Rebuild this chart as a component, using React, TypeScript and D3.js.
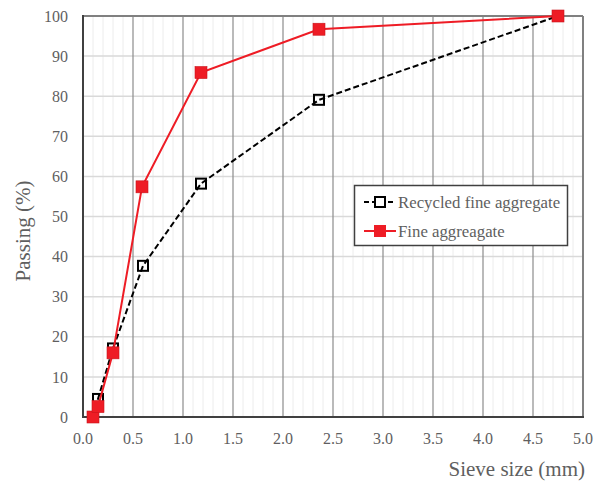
import React from 'react';
import * as d3 from 'd3';

// sieve sizes (mm) and passing percentages
const recycledSize = [0.1, 0.15, 0.3, 0.6, 1.18, 2.36, 4.75];
const recycledPassing = [0, 4.5, 17.1, 37.7, 58.2, 79.1, 100];
const fineSize = [0.1, 0.15, 0.3, 0.59, 1.18, 2.36, 4.75];
const finePassing = [0, 2.6, 16, 57.4, 85.9, 96.7, 100];
const xTicks = [0, 0.5, 1, 1.5, 2, 2.5, 3, 3.5, 4, 4.5, 5];
const yTicks = [0, 10, 20, 30, 40, 50, 60, 70, 80, 90, 100];
const seriesNames = ['Recycled fine aggregate', 'Fine aggreagate'];

const W = 598;
const H = 482;
const margin = { top: 16, right: 15, bottom: 65, left: 83 };
const font = 'Liberation Serif';
const textColor = '#5f5f5f';

const App = () => {
  const x = d3.scaleLinear().domain([0, 5]).range([margin.left, W - margin.right]);
  const y = d3.scaleLinear().domain([0, 100]).range([H - margin.bottom, margin.top]);

  const recycled = recycledSize.map((s, i) => ({ s, p: recycledPassing[i] }));
  const fine = fineSize.map((s, i) => ({ s, p: finePassing[i] }));

  const line = d3.line<{ s: number; p: number }>()
    .x(d => x(d.s))
    .y(d => y(d.p));

  const minor = d3.range(0, 50).map(i => i / 10).filter(v => Math.round(v * 10) % 5 !== 0);

  return (
    <svg width={W} height={H} style={{ position: 'absolute', left: 0, top: 0, background: '#fff', fontFamily: font }}>
      {/* minor verticals */}
      {minor.map(v => (
        <line key={'mv' + v} x1={x(v)} x2={x(v)} y1={y(0)} y2={y(100)} stroke="#ececec" strokeWidth={1} />
      ))}
      {/* horizontal grid */}
      {yTicks.map(v => (
        <line key={'h' + v} x1={x(0)} x2={x(5)} y1={y(v)} y2={y(v)} stroke="#d9d9d9" strokeWidth={1.5} />
      ))}
      {/* major verticals */}
      {xTicks.slice(1, -1).map(v => (
        <line key={'v' + v} x1={x(v)} x2={x(v)} y1={y(0)} y2={y(100)} stroke="#8c8c8c" strokeWidth={1.2} />
      ))}
      {/* frame */}
      <line x1={x(0)} x2={x(5)} y1={y(100)} y2={y(100)} stroke="#808080" strokeWidth={2} />
      <line x1={x(5)} x2={x(5)} y1={y(0)} y2={y(100)} stroke="#808080" strokeWidth={2} />
      <line x1={x(0)} x2={x(0)} y1={y(0) + 1} y2={y(100) - 1} stroke="#404040" strokeWidth={2} />
      <line x1={x(0) - 1} x2={x(5) + 1} y1={y(0)} y2={y(0)} stroke="#404040" strokeWidth={2} />

      {/* tick labels */}
      {yTicks.map(v => (
        <text key={'yt' + v} x={x(0) - 15} y={y(v)} dy="0.35em" textAnchor="end"
          fontSize={16} fill={textColor}>{v}</text>
      ))}
      {xTicks.map(v => (
        <text key={'xt' + v} x={x(v)} y={y(0) + 27} textAnchor="middle"
          fontSize={16} fill={textColor}>{d3.format('.1f')(v)}</text>
      ))}

      {/* axis titles */}
      <text x={585} y={476} textAnchor="end" fontSize={21} fill={textColor}>Sieve size (mm)</text>
      <text transform={`translate(30,231) rotate(-90)`} textAnchor="middle" fontSize={21} fill={textColor}>Passing (%)</text>

      {/* recycled series */}
      <path d={line(recycled) || ''} fill="none" stroke="#000" strokeWidth={2} strokeDasharray="6,3" />
      {recycled.map((d, i) => (
        <rect key={'r' + i} x={x(d.s) - 5} y={y(d.p) - 5} width={10} height={10} fill="none" stroke="#000" strokeWidth={2} />
      ))}

      {/* fine series */}
      <path d={line(fine) || ''} fill="none" stroke="#ee1c25" strokeWidth={2} />
      {fine.map((d, i) => (
        <rect key={'f' + i} x={x(d.s) - 6} y={y(d.p) - 6} width={12} height={12} fill="#ee1c25" stroke="#c8141c" strokeWidth={0.6} />
      ))}

      {/* legend */}
      <g>
        <rect x={354.5} y={185.5} width={213} height={60} fill="#fff" stroke="#404040" strokeWidth={1.5} />
        <line x1={364} x2={396} y1={202} y2={202} stroke="#000" strokeWidth={2} strokeDasharray="5,3" />
        <rect x={375} y={197} width={10} height={10} fill="#fff" stroke="#000" strokeWidth={2} />
        <text x={398} y={202} dy="0.35em" fontSize={16.8} fill={textColor}>{seriesNames[0]}</text>
        <line x1={364} x2={396} y1={231} y2={231} stroke="#ee1c25" strokeWidth={2} />
        <rect x={374} y={225} width={12} height={12} fill="#ee1c25" />
        <text x={398} y={231} dy="0.35em" fontSize={16.8} fill={textColor}>{seriesNames[1]}</text>
      </g>
    </svg>
  );
};

export default App;
